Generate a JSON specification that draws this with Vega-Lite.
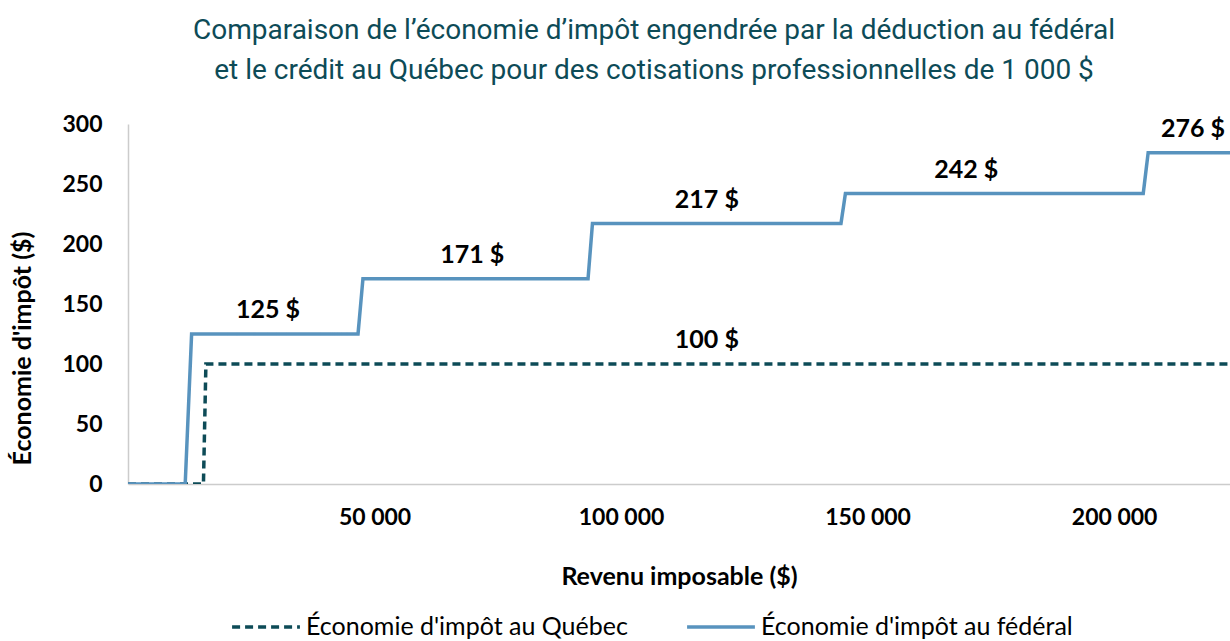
{
  "$schema": "https://vega.github.io/schema/vega-lite/v6.json",
  "autosize": {"type": "none"},
  "width": 1102,
  "height": 360,
  "padding": {"left": 128, "top": 124, "right": 0, "bottom": 157},
  "background": "white",
  "title": {
    "text": ["Comparaison de l’économie d’impôt engendrée par la déduction au fédéral", "et le crédit au Québec pour des cotisations professionnelles de 1 000 $"],
    "font": "Roboto",
    "fontSize": 28,
    "fontWeight": "normal",
    "color": "#0d4b57",
    "lineHeight": 40,
    "anchor": "middle",
    "dx": -25,
    "offset": 28
  },
  "datasets": {
    "lines": [
      {"revenu": 0, "economie": 0, "serie": "Économie d'impôt au Québec"},
      {"revenu": 15300, "economie": 0, "serie": "Économie d'impôt au Québec"},
      {"revenu": 15800, "economie": 100, "serie": "Économie d'impôt au Québec"},
      {"revenu": 223500, "economie": 100, "serie": "Économie d'impôt au Québec"},
      {"revenu": 0, "economie": 0, "serie": "Économie d'impôt au fédéral"},
      {"revenu": 11600, "economie": 0, "serie": "Économie d'impôt au fédéral"},
      {"revenu": 12900, "economie": 125, "serie": "Économie d'impôt au fédéral"},
      {"revenu": 46650, "economie": 125, "serie": "Économie d'impôt au fédéral"},
      {"revenu": 47650, "economie": 171, "serie": "Économie d'impôt au fédéral"},
      {"revenu": 93300, "economie": 171, "serie": "Économie d'impôt au fédéral"},
      {"revenu": 94200, "economie": 217, "serie": "Économie d'impôt au fédéral"},
      {"revenu": 144600, "economie": 217, "serie": "Économie d'impôt au fédéral"},
      {"revenu": 145500, "economie": 242, "serie": "Économie d'impôt au fédéral"},
      {"revenu": 205900, "economie": 242, "serie": "Économie d'impôt au fédéral"},
      {"revenu": 206900, "economie": 276, "serie": "Économie d'impôt au fédéral"},
      {"revenu": 223500, "economie": 276, "serie": "Économie d'impôt au fédéral"}
    ],
    "labels": [
      {"revenu": 28400, "economie": 125, "texte": "125 $"},
      {"revenu": 69800, "economie": 171, "texte": "171 $"},
      {"revenu": 117400, "economie": 217, "texte": "217 $"},
      {"revenu": 170000, "economie": 242, "texte": "242 $"},
      {"revenu": 216000, "economie": 276, "texte": "276 $"},
      {"revenu": 117400, "economie": 100, "texte": "100 $"}
    ]
  },
  "layer": [
    {
      "data": {"name": "lines"},
      "mark": {"type": "line", "strokeWidth": 3.5, "clip": true},
      "encoding": {
        "x": {
          "field": "revenu", "type": "quantitative",
          "scale": {"domain": [0, 223500], "nice": false, "zero": true},
          "axis": {
            "title": "Revenu imposable ($)",
            "values": [50000, 100000, 150000, 200000],
            "labelExpr": "replace(format(datum.value, ','), ',', ' ')",
            "labelPadding": 22,
            "titlePadding": 35
          }
        },
        "y": {
          "field": "economie", "type": "quantitative",
          "scale": {"domain": [0, 300], "nice": false},
          "axis": {
            "title": "Économie d'impôt ($)",
            "values": [0, 50, 100, 150, 200, 250, 300],
            "labelPadding": 26,
            "titlePadding": 26,
            "titleY": 224
          }
        },
        "color": {
          "field": "serie", "type": "nominal",
          "scale": {"domain": ["Économie d'impôt au Québec", "Économie d'impôt au fédéral"], "range": ["#0d4b57", "#5893be"]},
          "legend": {
            "title": null,
            "orient": "none",
            "legendX": 102,
            "legendY": 467,
            "direction": "horizontal",
            "symbolType": "stroke",
            "symbolSize": 4600,
            "symbolStrokeWidth": 3.5,
            "labelFont": "Lato",
            "labelFontSize": 25,
            "labelColor": "#000000",
            "labelOffset": 4,
            "columnPadding": 52,
            "labelLimit": 500
          }
        },
        "strokeDash": {
          "field": "serie", "type": "nominal",
          "scale": {"domain": ["Économie d'impôt au Québec", "Économie d'impôt au fédéral"], "range": [[8, 5], [1, 0]]},
          "legend": null
        }
      }
    },
    {
      "data": {"name": "labels"},
      "mark": {"type": "text", "font": "Lato", "fontSize": 25, "fontWeight": "bold", "color": "#000000", "baseline": "middle", "align": "center", "dy": -24},
      "encoding": {
        "x": {"field": "revenu", "type": "quantitative"},
        "y": {"field": "economie", "type": "quantitative"},
        "text": {"field": "texte"}
      }
    }
  ],
  "config": {
    "view": {"stroke": null},
    "axis": {
      "grid": false,
      "ticks": false,
      "domainColor": "#cccccc",
      "domainWidth": 1.5,
      "labelFont": "Lato",
      "labelFontSize": 23,
      "labelFontWeight": "bold",
      "labelColor": "#000000",
      "titleFont": "Lato",
      "titleFontSize": 25,
      "titleFontWeight": "bold",
      "titleColor": "#000000"
    }
  }
}
